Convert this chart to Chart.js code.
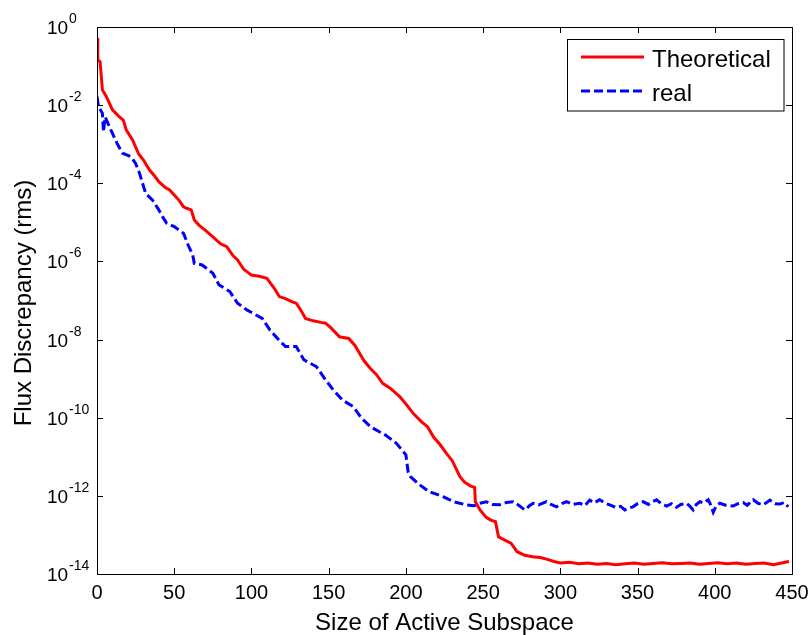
<!DOCTYPE html>
<html lang="en">
<head>
    <meta charset="UTF-8">
    <title>Flux Discrepancy</title>
    <script src="https://cdn.jsdelivr.net/npm/chart.js@4"></script>
    <style>
        body { margin: 0; background: #fff; }
        canvas { display: block; }
    </style>
</head>
<body>
    <canvas id="fluxChart" width="811" height="635"></canvas>

    <script>
        // values; y given as log10 of the rms discrepancy
        const theoreticalX = [0, 0.5, 2, 3.5, 6, 10, 14, 17, 19, 23, 27, 30, 34, 37, 40, 44, 47, 50, 53, 56, 58, 61, 63, 66,
            70, 75, 80, 84, 88, 91, 95, 97, 100, 105, 110, 115, 118, 122, 126, 129, 132, 135, 140, 145, 148, 152, 157,
            163, 167, 170, 173, 177, 181, 185, 190, 196, 200, 205, 210, 214, 218, 222, 226, 230, 235, 238, 242, 244.5,
            245, 248, 252, 255, 258, 260, 265, 268, 272, 277, 282, 287, 291, 296, 300,
            306, 312, 318, 324, 330, 336, 342, 348, 354, 360, 366, 372, 378, 384, 390, 396, 402, 408, 414, 420, 426,
            432, 438, 444, 448];
        const theoreticalLog = [-0.28, -0.84, -0.89, -1.61, -1.78, -2.12, -2.28, -2.38, -2.64, -2.89, -3.25, -3.40, -3.66,
            -3.80, -3.96, -4.10, -4.17, -4.30, -4.43, -4.60, -4.64, -4.68, -4.94, -5.07,
            -5.20, -5.37, -5.55, -5.62, -5.85, -5.96, -6.20, -6.26, -6.35, -6.38, -6.43, -6.70, -6.90, -6.95, -7.03,
            -7.07, -7.25, -7.46, -7.52, -7.56, -7.58, -7.72, -7.93, -7.97, -8.15, -8.35, -8.55, -8.74, -8.90, -9.12,
            -9.25, -9.46, -9.65, -9.90, -10.10, -10.23, -10.50, -10.68, -10.90, -11.10, -11.51, -11.65, -11.75, -11.78,
            -12.15, -12.36, -12.55, -12.62, -12.66, -13.05, -13.15, -13.21, -13.43, -13.52, -13.56, -13.58, -13.62,
            -13.68, -13.72,
            -13.70, -13.74, -13.72, -13.75, -13.73, -13.76, -13.74, -13.72, -13.75, -13.73, -13.71, -13.74, -13.73,
            -13.72, -13.75, -13.73, -13.71, -13.74, -13.72, -13.75, -13.73, -13.72, -13.76, -13.71, -13.68];

        const realX = [0, 1, 3.5, 4.2, 5.3, 8, 13, 16.5, 22, 25, 27.5, 29.5, 31.5, 36, 40, 42.5, 45, 50, 56, 59, 62, 63,
            68, 75, 79, 86, 91, 97, 107, 112, 118, 122, 129, 134, 142, 148, 153, 159, 166, 171, 177, 187, 194, 200,
            201.5, 203, 209, 215, 224, 231, 239, 244, 248, 252, 256, 260.7, 265, 269.4, 273, 277, 280, 282.3, 286, 291,
            294, 297.5, 301, 304, 308, 312.6, 316, 319, 322, 325.5, 329, 332, 336, 339, 341.8, 344, 347, 350, 353.6,
            357, 360, 362.3, 365, 368.8, 372, 375.2, 378, 381.7, 384, 386, 388, 390.3, 393, 395.7, 397, 399, 401,
            403.3, 407, 411.9, 415, 418.4, 421, 424.9, 428, 431.4, 434, 435.7, 439, 442.2, 445, 447.6];
        const realLog = [-1.78, -2.04, -2.21, -2.68, -2.30, -2.55, -2.98, -3.23, -3.32, -3.49, -3.74, -4.00, -4.26, -4.43,
            -4.68, -4.86, -5.02, -5.11, -5.28, -5.58, -5.84, -6.05, -6.09, -6.30, -6.60, -6.77, -7.07, -7.24, -7.46,
            -7.76, -8.02, -8.18, -8.18, -8.52, -8.69, -9.03, -9.29, -9.55, -9.72, -10.00, -10.23, -10.45, -10.66,
            -10.95, -11.40, -11.51, -11.72, -11.89, -12.02, -12.15, -12.23, -12.25, -12.19, -12.15, -12.22, -12.23,
            -12.17, -12.15, -12.24, -12.36, -12.25, -12.19, -12.23, -12.15, -12.22, -12.28, -12.20, -12.15, -12.22,
            -12.19, -12.25, -12.11, -12.18, -12.10, -12.19, -12.23, -12.30, -12.27, -12.36, -12.32, -12.28, -12.20,
            -12.15, -12.22, -12.14, -12.10, -12.19, -12.26, -12.20, -12.29, -12.22, -12.19, -12.27, -12.36, -12.22,
            -12.15, -12.18, -12.10, -12.20, -12.42, -12.25, -12.19, -12.24, -12.26, -12.20, -12.17, -12.24, -12.10,
            -12.19, -12.23, -12.16, -12.11, -12.20, -12.21, -12.17, -12.28];

        const xTicks = [0, 50, 100, 150, 200, 250, 300, 350, 400, 450];
        const yTickExponents = [0, -2, -4, -6, -8, -10, -12, -14];
        const seriesLabels = ['Theoretical', 'real'];

        const FONT = '"Liberation Sans", Arial, sans-serif';

        function toPoints(xs, logs) {
            return xs.map((x, i) => ({ x: x, y: Math.pow(10, logs[i]) }));
        }

        // MATLAB style box, inward ticks, 10^n labels, titles and legend
        const matlabAxes = {
            id: 'matlabAxes',
            afterDraw(chart) {
                const ctx = chart.ctx;
                const area = chart.chartArea;
                const xs = chart.scales.x;
                const ys = chart.scales.y;
                const tick = 6;

                ctx.save();
                ctx.strokeStyle = '#000';
                ctx.lineWidth = 1;
                ctx.strokeRect(area.left + 0.5, area.top + 0.5, area.right - area.left, area.bottom - area.top);

                ctx.beginPath();
                xTicks.forEach(v => {
                    const px = Math.round(xs.getPixelForValue(v)) + 0.5;
                    ctx.moveTo(px, area.bottom);
                    ctx.lineTo(px, area.bottom - tick);
                    ctx.moveTo(px, area.top);
                    ctx.lineTo(px, area.top + tick);
                });
                yTickExponents.forEach(e => {
                    const py = Math.round(ys.getPixelForValue(Math.pow(10, e))) + 0.5;
                    ctx.moveTo(area.left, py);
                    ctx.lineTo(area.left + tick, py);
                    ctx.moveTo(area.right, py);
                    ctx.lineTo(area.right - tick, py);
                });
                ctx.stroke();

                ctx.fillStyle = '#000';
                ctx.font = '20px ' + FONT;
                ctx.textAlign = 'center';
                ctx.textBaseline = 'alphabetic';
                xTicks.forEach(v => {
                    ctx.fillText(String(v), xs.getPixelForValue(v), 599);
                });

                yTickExponents.forEach(e => {
                    const py = ys.getPixelForValue(Math.pow(10, e));
                    ctx.font = '19px ' + FONT;
                    ctx.textAlign = 'left';
                    ctx.fillText('10', 47, py + 7);
                    ctx.font = '14px ' + FONT;
                    ctx.fillText(String(e), 69, py - 4);
                });

                ctx.font = '24px ' + FONT;
                ctx.textAlign = 'center';
                ctx.fillText('Size of Active Subspace', (area.left + area.right) / 2, 630);

                ctx.save();
                ctx.translate(31, 303);
                ctx.rotate(-Math.PI / 2);
                ctx.fillText('Flux Discrepancy (rms)', 0, 0);
                ctx.restore();

                // legend
                const box = { left: 567.5, top: 39.5, right: 784, bottom: 111 };
                ctx.fillStyle = '#fff';
                ctx.fillRect(box.left, box.top, box.right - box.left, box.bottom - box.top);
                ctx.strokeStyle = '#000';
                ctx.lineWidth = 1;
                ctx.strokeRect(box.left, box.top, box.right - box.left, box.bottom - box.top);

                const rows = [57, 91];
                chart.data.datasets.forEach((ds, i) => {
                    ctx.beginPath();
                    ctx.strokeStyle = ds.borderColor;
                    ctx.lineWidth = ds.borderWidth;
                    ctx.setLineDash(ds.borderDash || []);
                    ctx.moveTo(581, rows[i]);
                    ctx.lineTo(644, rows[i]);
                    ctx.stroke();
                    ctx.setLineDash([]);
                    ctx.fillStyle = '#000';
                    ctx.font = '24px ' + FONT;
                    ctx.textAlign = 'left';
                    ctx.fillText(ds.label, 652, rows[i] + 10);
                });
                ctx.restore();
            }
        };

        new Chart(document.getElementById('fluxChart').getContext('2d'), {
            type: 'line',
            data: {
                datasets: [
                    {
                        label: seriesLabels[0],
                        data: toPoints(theoreticalX, theoreticalLog),
                        borderColor: '#ff0000',
                        borderWidth: 3,
                        pointRadius: 0,
                        tension: 0,
                        fill: false
                    },
                    {
                        label: seriesLabels[1],
                        data: toPoints(realX, realLog),
                        borderColor: '#0000ff',
                        borderWidth: 3,
                        borderDash: [9, 4],
                        pointRadius: 0,
                        tension: 0,
                        fill: false
                    }
                ]
            },
            options: {
                responsive: false,
                animation: false,
                layout: { padding: { left: 97, right: 19, top: 27, bottom: 61 } },
                plugins: { legend: { display: false }, tooltip: { enabled: false } },
                scales: {
                    x: {
                        type: 'linear',
                        display: false,
                        min: 0,
                        max: 450
                    },
                    y: {
                        type: 'logarithmic',
                        display: false,
                        min: 1e-14,
                        max: 1
                    }
                }
            },
            plugins: [matlabAxes]
        });
    </script>
</body>
</html>
